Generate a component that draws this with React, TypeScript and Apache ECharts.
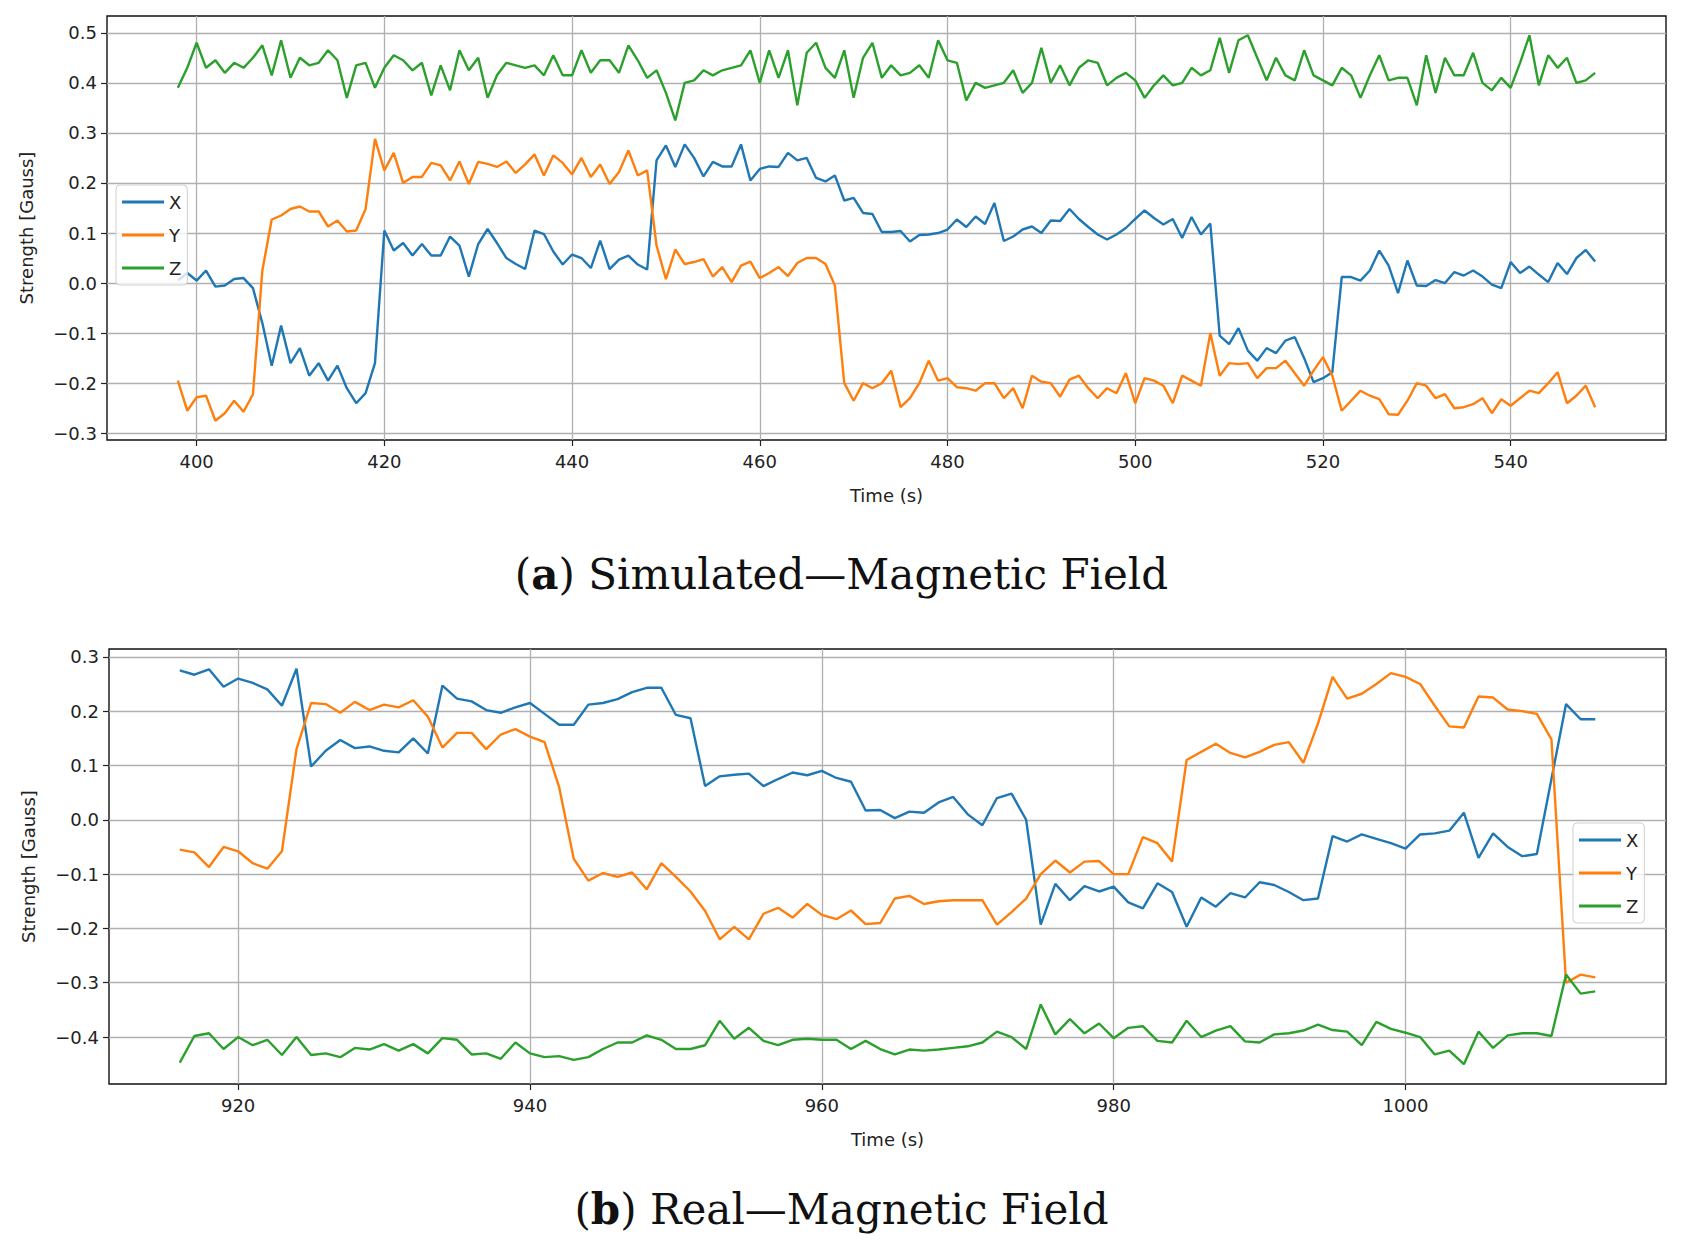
import React, { useEffect, useRef } from "react";
import * as echarts from "echarts";

const simX = [398, 549];
const simBX = [.005,.02,.005,.025,-.007,-.005,.008,.01,-.01,-.08,-.165,-.085,-.16,-.13,-.185,-.16,-.195,-.165,-.21,-.24,-.22,-.16,.105,.065,.08,.055,.078,.055,.055,.093,.075,.013,.078,.108,.08,.05,.038,.028,.105,.098,.063,.037,.057,.05,.03,.085,.028,.047,.055,.037,.027,.245,.275,.232,.277,.25,.213,.242,.233,.233,.277,.205,.228,.233,.232,.26,.245,.25,.21,.203,.215,.165,.17,.14,.138,.102,.102,.104,.083,.096,.097,.1,.107,.127,.112,.133,.118,.16,.084,.093,.107,.113,.1,.125,.124,.148,.128,.112,.097,.087,.097,.11,.128,.145,.13,.117,.128,.09,.132,.097,.119,-.105,-.122,-.09,-.135,-.155,-.13,-.14,-.115,-.108,-.15,-.198,-.19,-.178,.012,.012,.005,.025,.065,.035,-.02,.045,-.005,-.006,.006,0,.022,.015,.025,.013,-.003,-.01,.042,.02,.033,.017,.002,.04,.018,.05,.066,.043];
const simBY = [-.195,-.255,-.228,-.225,-.275,-.26,-.235,-.257,-.222,.025,.127,.135,.148,.153,.143,.143,.113,.125,.103,.105,.148,.288,.225,.26,.2,.212,.212,.24,.235,.205,.243,.198,.242,.238,.232,.243,.22,.237,.257,.215,.255,.24,.217,.25,.212,.237,.198,.222,.265,.215,.225,.075,.008,.067,.038,.042,.048,.013,.032,.002,.035,.043,.01,.02,.032,.014,.04,.05,.05,.038,-.005,-.2,-.235,-.2,-.21,-.2,-.175,-.248,-.23,-.2,-.155,-.195,-.19,-.208,-.21,-.215,-.2,-.2,-.23,-.21,-.25,-.185,-.197,-.2,-.227,-.193,-.185,-.21,-.23,-.21,-.22,-.18,-.24,-.19,-.195,-.205,-.24,-.185,-.195,-.205,-.1,-.185,-.16,-.162,-.16,-.19,-.17,-.17,-.155,-.18,-.205,-.175,-.148,-.185,-.255,-.235,-.215,-.225,-.232,-.262,-.263,-.235,-.2,-.205,-.23,-.222,-.25,-.248,-.242,-.23,-.26,-.232,-.245,-.23,-.215,-.22,-.2,-.178,-.24,-.225,-.205,-.248];
const simBZ = [.39,.43,.48,.43,.445,.42,.44,.43,.45,.475,.415,.485,.41,.45,.435,.44,.465,.445,.37,.435,.44,.39,.43,.455,.445,.425,.44,.375,.435,.385,.465,.425,.45,.37,.415,.44,.435,.43,.435,.415,.455,.415,.415,.465,.42,.445,.445,.42,.475,.445,.41,.425,.38,.325,.4,.405,.425,.415,.425,.43,.435,.465,.4,.465,.41,.465,.355,.46,.48,.43,.41,.465,.37,.45,.48,.41,.435,.415,.42,.435,.41,.485,.445,.44,.365,.4,.39,.395,.4,.425,.38,.4,.47,.4,.435,.395,.43,.445,.44,.395,.41,.42,.405,.37,.395,.415,.395,.4,.43,.415,.425,.49,.42,.485,.495,.45,.405,.45,.415,.405,.465,.415,.405,.395,.43,.415,.37,.415,.455,.405,.41,.41,.355,.455,.38,.45,.415,.415,.46,.4,.385,.41,.39,.44,.495,.395,.455,.43,.45,.4,.405,.42];

const realX = [916, 1013];
const realBX = [.275,.267,.277,.245,.26,.252,.24,.21,.278,.098,.127,.147,.132,.135,.127,.124,.15,.122,.247,.223,.218,.202,.197,.207,.215,.195,.175,.175,.212,.215,.222,.235,.243,.243,.193,.187,.062,.08,.083,.085,.062,.075,.087,.082,.09,.077,.07,.017,.018,.003,.015,.013,.032,.042,.01,-.01,.04,.048,0,-.193,-.118,-.148,-.122,-.132,-.123,-.152,-.163,-.117,-.133,-.197,-.143,-.16,-.135,-.143,-.115,-.12,-.133,-.148,-.145,-.03,-.04,-.027,-.035,-.043,-.053,-.027,-.025,-.02,.013,-.07,-.025,-.05,-.067,-.063,.075,.213,.185,.185];
const realBY = [-.055,-.06,-.087,-.05,-.058,-.08,-.09,-.058,.13,.215,.213,.197,.217,.202,.212,.207,.22,.19,.133,.16,.16,.13,.157,.167,.153,.143,.06,-.072,-.112,-.098,-.105,-.097,-.128,-.08,-.105,-.132,-.168,-.22,-.197,-.22,-.173,-.162,-.18,-.155,-.175,-.183,-.167,-.192,-.19,-.145,-.14,-.155,-.15,-.148,-.148,-.148,-.193,-.17,-.145,-.1,-.075,-.097,-.077,-.076,-.1,-.1,-.032,-.043,-.077,.11,.125,.14,.123,.115,.125,.138,.143,.105,.177,.263,.223,.232,.25,.27,.263,.25,.21,.172,.17,.227,.225,.203,.2,.195,.148,-.3,-.285,-.29];
const realBZ = [-.447,-.398,-.393,-.422,-.4,-.415,-.405,-.433,-.4,-.433,-.43,-.437,-.42,-.423,-.413,-.425,-.413,-.43,-.402,-.405,-.432,-.43,-.44,-.41,-.43,-.437,-.435,-.442,-.437,-.422,-.41,-.41,-.397,-.405,-.422,-.422,-.415,-.37,-.403,-.383,-.407,-.415,-.405,-.403,-.405,-.405,-.422,-.407,-.422,-.432,-.423,-.425,-.423,-.42,-.417,-.41,-.39,-.4,-.422,-.34,-.395,-.367,-.393,-.375,-.402,-.383,-.38,-.407,-.41,-.37,-.4,-.388,-.38,-.408,-.41,-.395,-.393,-.388,-.377,-.387,-.39,-.415,-.372,-.385,-.392,-.4,-.432,-.425,-.45,-.39,-.42,-.397,-.393,-.393,-.398,-.285,-.32,-.316];

const simXTicks = [400, 420, 440, 460, 480, 500, 520, 540];
const simYTicks = [-0.3, -0.2, -0.1, 0, 0.1, 0.2, 0.3, 0.4, 0.5];
const realXTicks = [920, 940, 960, 980, 1000];
const realYTicks = [-0.4, -0.3, -0.2, -0.1, 0, 0.1, 0.2, 0.3];
const names = ["X", "Y", "Z"];
const colors = ["#1f77b4", "#ff7f0e", "#2ca02c"];
const captions = ["Simulated—Magnetic Field", "Real—Magnetic Field"];

const pts = (start: number, vals: number[]) => vals.map((v, i) => [start + i, v]);
const fmtY = (v: number) => (v < 0 ? "−" : "") + Math.abs(v).toFixed(1);
const fmtX = (v: number) => String(Math.round(v));
const FONT = "DejaVu Sans";

function xAxis(gridIndex: number, min: number, max: number, ticks: number[]) {
  return {
    type: "value", gridIndex, min, max,
    name: "Time (s)", nameLocation: "middle", nameGap: 46,
    nameTextStyle: { fontFamily: FONT, fontSize: 18, color: "#222" },
    axisLine: { show: false, onZero: false },
    axisTick: { show: true, length: 6, customValues: ticks, lineStyle: { color: "#222", width: 1.2 } },
    axisLabel: { customValues: ticks, formatter: fmtX, fontFamily: FONT, fontSize: 18, color: "#222", margin: 12 },
    splitLine: { show: true, lineStyle: { color: "#b0b0b0", width: 1.3 } },
  };
}
function yAxis(gridIndex: number, min: number, max: number, ticks: number[]) {
  return {
    type: "value", gridIndex, min, max,
    name: "Strength [Gauss]", nameLocation: "middle", nameGap: 72, nameRotate: 90,
    nameTextStyle: { fontFamily: FONT, fontSize: 18, color: "#222" },
    axisLine: { show: false, onZero: false },
    axisTick: { show: true, length: 6, customValues: ticks, lineStyle: { color: "#222", width: 1.2 } },
    axisLabel: { customValues: ticks, formatter: fmtY, fontFamily: FONT, fontSize: 18, color: "#222", margin: 10 },
    splitLine: { show: true, lineStyle: { color: "#b0b0b0", width: 1.3 } },
  };
}

export default function App() {
  const ref = useRef<HTMLDivElement>(null);
  useEffect(() => {
    document.body.style.margin = "0";
    const chart = echarts.init(ref.current!, null, { renderer: "svg" });
    const simData = [simBX, simBY, simBZ];
    const realData = [realBX, realBY, realBZ];
    const series: any[] = [];
    names.forEach((n, i) => {
      series.push({ type: "line", name: n, xAxisIndex: 0, yAxisIndex: 0, data: pts(simX[0], simData[i]), showSymbol: false, lineStyle: { width: 2.4, color: colors[i] }, itemStyle: { color: colors[i] } });
    });
    names.forEach((n, i) => {
      series.push({ type: "line", name: n, xAxisIndex: 1, yAxisIndex: 1, data: pts(realX[0], realData[i]), showSymbol: false, lineStyle: { width: 2.4, color: colors[i] }, itemStyle: { color: colors[i] } });
    });
    const legendBase = {
      orient: "vertical", data: names, icon: "rect", itemWidth: 42, itemHeight: 3, itemGap: 15,
      textStyle: { fontFamily: FONT, fontSize: 18, color: "#222" },
      backgroundColor: "rgba(255,255,255,0.8)", borderColor: "#d0d0d0", borderWidth: 1, borderRadius: 4,
      padding: [8, 6, 8, 6],
    };
    const cap = (top: number, letter: string, text: string) => ({
      type: "text", left: "center", top,
      style: {
        text: `({b|${letter}}) ${text}`,
        rich: { b: { fontWeight: "bold", fontFamily: "DejaVu Serif", fontSize: 42, fill: "#111" } },
        fontFamily: "DejaVu Serif", fontSize: 42, fill: "#111",
      },
    });
    chart.setOption({
      animation: false,
      backgroundColor: "#fff",
      grid: [
        { left: 107, top: 16, width: 1559, height: 424, show: true, borderColor: "#111", borderWidth: 1.4, backgroundColor: "transparent" },
        { left: 109, top: 649, width: 1557, height: 435, show: true, borderColor: "#111", borderWidth: 1.4, backgroundColor: "transparent" },
      ],
      xAxis: [xAxis(0, 390.45, 556.55, simXTicks), xAxis(1, 911.15, 1017.85, realXTicks)],
      yAxis: [yAxis(0, -0.3135, 0.5335, simYTicks), yAxis(1, -0.4864, 0.3144, realYTicks)],
      legend: [
        { ...legendBase, left: 116, top: 185 },
        { ...legendBase, left: 1573, top: 823 },
      ],
      graphic: [cap(553, "a", captions[0]), cap(1188, "b", captions[1])],
      series,
    });
    return () => chart.dispose();
  }, []);
  return <div ref={ref} style={{ width: 1683, height: 1257, position: "absolute", left: 0, top: 0 }} />;
}
